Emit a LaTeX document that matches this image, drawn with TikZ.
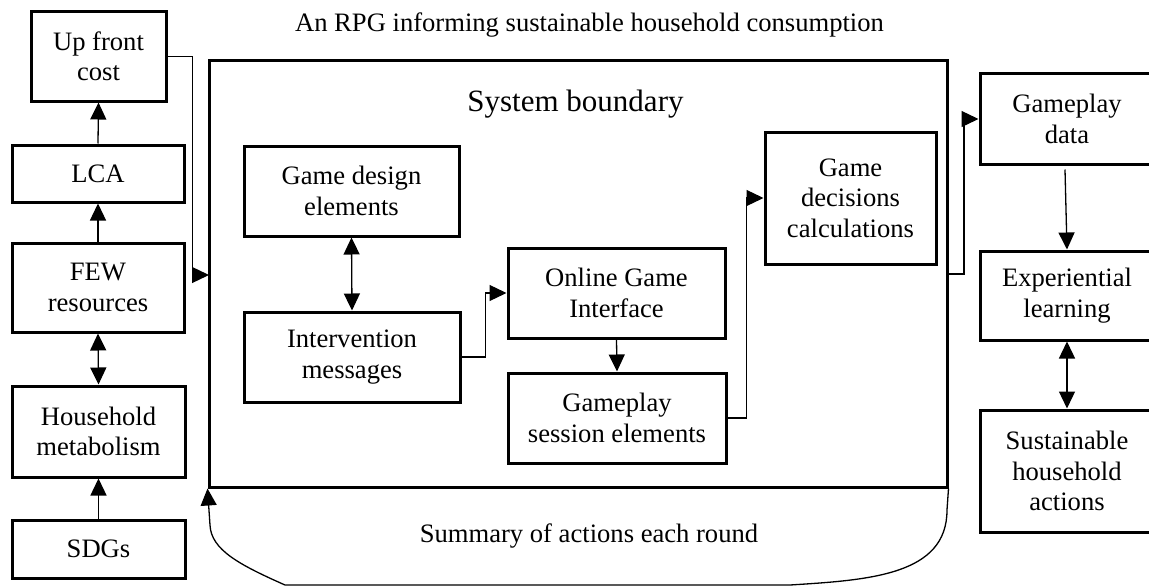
\documentclass[tikz,border=0pt]{standalone}
\usepackage{fontspec}
\setmainfont{Liberation Serif}
\usetikzlibrary{arrows.meta}
\tikzset{
    box/.style={draw, line width=3pt, align=center, inner sep=3pt,
        font=\fontsize{26.6}{30.5}\selectfont},
    label/.style={anchor=base, inner sep=0pt, font=\fontsize{26.6}{30.5}\selectfont},
    link/.style={line width=1.3pt, -{Triangle[length=17pt,width=16pt]}},
    twoway/.style={line width=1.3pt, {Triangle[length=17pt,width=16pt]}-{Triangle[length=17pt,width=16pt]}}
}

\begin{document}
\begin{tikzpicture}[x=1pt,y=-1pt]
        \useasboundingbox (0,0) rectangle (1149,586);
        \node[label] (title) at (589.5,32) {An RPG informing sustainable household consumption};
        % Left column
        \node[box, minimum width=135pt, minimum height=89pt] (upfront) at (98.5,56.5) {Up front\\cost};
        \node[box, minimum width=172pt, minimum height=57pt] (lca) at (98,173.5) {LCA};
        \node[box, minimum width=172pt, minimum height=89pt] (few) at (98,287.5) {FEW\\resources};
        \node[box, minimum width=173pt, minimum height=91pt] (house) at (98.5,431.5) {Household\\metabolism};
        \node[box, minimum width=173pt, minimum height=58pt] (sdgs) at (98.5,549) {SDGs};

        % System boundary
        \node[box, minimum width=738pt, minimum height=426pt] (system) at (578,274) {};
        \node[label, font=\fontsize{31}{36}\selectfont] (sysname) at (575.5,111) {System boundary};
        \node[box, minimum width=215pt, minimum height=90pt] (design) at (351.5,191) {Game design\\elements};
        \node[box, minimum width=216pt, minimum height=90pt] (interv) at (352,357) {Intervention\\messages};
        \node[box, minimum width=217pt, minimum height=90pt] (online) at (616.5,293) {Online Game\\Interface};
        \node[box, minimum width=218pt, minimum height=90pt] (session) at (617,418) {Gameplay\\session elements};
        \node[box, minimum width=171pt, minimum height=132pt] (decisions) at (850.5,198) {Game\\decisions\\calculations};
        \coordinate (sysin) at (209,275);
        \coordinate (sysout) at (947,274);

        % Right column
        \node[box, minimum width=174pt, minimum height=90pt] (gpdata) at (1067,119) {Gameplay\\data};
        \node[box, minimum width=174pt, minimum height=89pt] (explearn) at (1067,295.5) {Experiential\\learning};
        \node[box, minimum width=174pt, minimum height=122pt] (sustain) at (1067,471) {Sustainable\\household\\actions};

        \node[label] (summary) at (589,542) {Summary of actions each round};

        % Connectors
        \draw[link] (lca.north) -- (upfront.south);
        \draw[link] (few.north) -- (lca.south);
        \draw[twoway] (few.south) -- (house.north);
        \draw[link] (sdgs.north) -- (house.south);
        \draw[link] (upfront.east) -- ++(25,0) |- (sysin);
        \draw[twoway] (design.south) -- (interv.north);
        \draw[link] (interv.east) -- ++(24,0) |- (online.west);
        \draw[link] (online.south) -- (session.north);
        \draw[link] (session.east) -- ++(19,0) |- (decisions.west);
        \draw[link] (sysout) -- ++(17,0) |- (gpdata.west);
        \draw[link] ([xshift=-2pt,yshift=-4pt]gpdata.south) -- (explearn.north);
        \draw[twoway] (explearn.south) -- (sustain.north);
        % Feedback loop under the boundary
        \draw[link] (system.south east) -- (947,510) .. controls (947,575) and (870,580) .. (790,585)
            -- (285,585) .. controls (240,565) and (211,550) .. (210,525) -- (system.south west);
    \end{tikzpicture}
\end{document}
